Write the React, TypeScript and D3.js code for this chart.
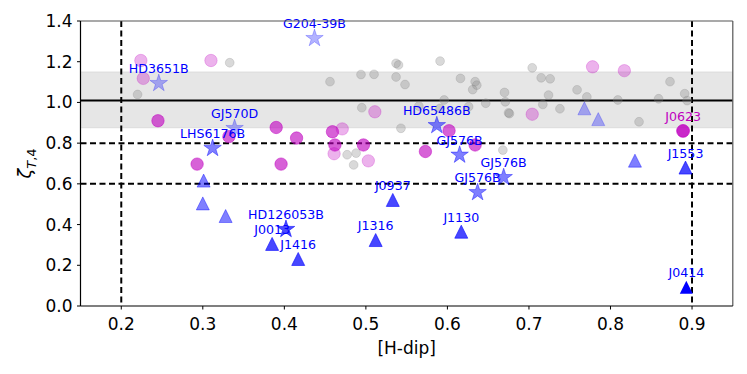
import React from "react";
import * as d3 from "d3";

// field objects (grey), other samples (pink / magenta)
const fieldPts: [number, number][] = [
  [0.220, 1.039], [0.333, 1.195], [0.456, 1.102], [0.494, 1.137], [0.510, 1.138],
  [0.537, 1.192], [0.540, 1.184], [0.537, 1.125], [0.548, 1.088], [0.495, 0.974],
  [0.543, 0.873], [0.477, 0.743], [0.488, 0.751], [0.485, 0.693], [0.565, 0.982],
  [0.591, 1.203], [0.596, 1.012], [0.591, 0.971], [0.616, 1.118], [0.634, 1.102],
  [0.636, 1.085], [0.631, 1.063], [0.626, 0.979], [0.647, 0.996], [0.668, 0.766],
  [0.670, 1.049], [0.671, 1.003], [0.675, 0.949], [0.676, 0.945], [0.704, 1.170],
  [0.715, 1.121], [0.726, 1.116], [0.724, 1.036], [0.717, 0.990], [0.738, 0.969],
  [0.759, 1.062], [0.771, 1.027], [0.809, 1.012], [0.835, 0.905], [0.859, 1.018],
  [0.873, 1.102], [0.891, 1.043], [0.894, 1.009],
];
const paleCircles: [number, number][] = [
  [0.224, 1.206], [0.227, 1.118], [0.310, 1.206], [0.511, 0.954], [0.471, 0.870],
  [0.461, 0.748], [0.503, 0.713], [0.778, 1.175], [0.817, 1.156], [0.704, 0.942],
];
const midCircles: [number, number][] = [
  [0.245, 0.910], [0.293, 0.697], [0.332, 0.832], [0.390, 0.877], [0.415, 0.825],
  [0.396, 0.697], [0.459, 0.856], [0.462, 0.791], [0.497, 0.791], [0.573, 0.759],
  [0.602, 0.861], [0.634, 0.791],
];
const magentaLabeled = [{ name: "J0623", x: 0.889, y: 0.860 }];

// triangles
const triPale: [number, number][] = [[0.768, 0.971], [0.785, 0.918]];
const triMid: [number, number][] = [[0.301, 0.616], [0.300, 0.504], [0.328, 0.442], [0.830, 0.714]];
const triLabeled = [
  { name: "J0937", x: 0.533, y: 0.521 },
  { name: "J1316", x: 0.512, y: 0.324 },
  { name: "J1130", x: 0.617, y: 0.365 },
  { name: "J0013", x: 0.385, y: 0.305 },
  { name: "J1416", x: 0.417, y: 0.231 },
  { name: "J1553", x: 0.892, y: 0.680 },
];
const triSolid = [{ name: "J0414", x: 0.893, y: 0.092 }];

// stars (companions)
const starsPale = [
  { name: "HD3651B", x: 0.246, y: 1.094 },
  { name: "G204-39B", x: 0.437, y: 1.315 },
  { name: "GJ570D", x: 0.339, y: 0.873 },
];
const starsMid = [
  { name: "LHS6176B", x: 0.312, y: 0.775 },
  { name: "HD65486B", x: 0.587, y: 0.887 },
  { name: "GJ576B", x: 0.615, y: 0.742 },
  { name: "GJ576B", x: 0.669, y: 0.632 },
  { name: "GJ576B", x: 0.637, y: 0.558 },
];
const starsStrong = [{ name: "HD126053B", x: 0.402, y: 0.377 }];

const xTicks = [0.2, 0.3, 0.4, 0.5, 0.6, 0.7, 0.8, 0.9];
const yTicks = [0.0, 0.2, 0.4, 0.6, 0.8, 1.0, 1.2, 1.4];
const refLine = 1.01;
const band = [0.875, 1.15];
const dashX = [0.2, 0.9];
const dashY = [0.6, 0.8];

const W = 747, H = 374;
const L = 80.5, R = 732.8, T = 21, B = 306;
const FONT = "DejaVu Sans, sans-serif";

const tri = (s: number) => `M0,${-s}L${-s},${s}L${s},${s}Z`;
const star = d3.symbol().type(d3.symbolStar).size(95)() as string;

export default function App() {
  const x = d3.scaleLinear().domain([0.15, 0.95]).range([L, R]);
  const y = d3.scaleLinear().domain([0, 1.4]).range([B, T]);

  const labels = [...triLabeled, ...triSolid, ...starsPale, ...starsMid, ...starsStrong];

  return (
    <svg width={W} height={H} style={{ position: "absolute", left: 0, top: 0, background: "#fff" }} fontFamily={FONT}>
      <defs>
        <clipPath id="plot"><rect x={L} y={T} width={R - L} height={B - T} /></clipPath>
      </defs>
      <g clipPath="url(#plot)">
        <rect x={L} y={y(band[1])} width={R - L} height={y(band[0]) - y(band[1])}
          fill="#808080" fillOpacity={0.2} stroke="#808080" strokeOpacity={0.15} />
        <line x1={L} x2={R} y1={y(refLine)} y2={y(refLine)} stroke="#000" strokeWidth={2} />
        {dashX.map((d) => (
          <line key={"dx" + d} x1={x(d)} x2={x(d)} y1={T} y2={B} stroke="#000" strokeWidth={2} strokeDasharray="6,3.5" />
        ))}
        {dashY.map((d) => (
          <line key={"dy" + d} x1={L} x2={R} y1={y(d)} y2={y(d)} stroke="#000" strokeWidth={2} strokeDasharray="6,3.5" />
        ))}

        {fieldPts.map(([a, b], i) => (
          <circle key={"f" + i} cx={x(a)} cy={y(b)} r={4.4} fill="#808080" fillOpacity={0.3} stroke="#808080" strokeOpacity={0.3} strokeWidth={0.8} />
        ))}
        {paleCircles.map(([a, b], i) => (
          <circle key={"p" + i} cx={x(a)} cy={y(b)} r={6.2} fill="#bf00bf" fillOpacity={0.3} stroke="#bf00bf" strokeOpacity={0.3} strokeWidth={0.8} />
        ))}
        {midCircles.map(([a, b], i) => (
          <circle key={"m" + i} cx={x(a)} cy={y(b)} r={6.2} fill="#bf00bf" fillOpacity={0.62} stroke="#bf00bf" strokeOpacity={0.62} strokeWidth={0.8} />
        ))}
        {magentaLabeled.map((d) => (
          <circle key={d.name} cx={x(d.x)} cy={y(d.y)} r={6.4} fill="#bf00bf" fillOpacity={0.85} stroke="#bf00bf" strokeOpacity={0.85} strokeWidth={0.8} />
        ))}

        {triPale.map(([a, b], i) => (
          <path key={"tp" + i} d={tri(6.5)} transform={`translate(${x(a)},${y(b)})`} fill="#0000ff" fillOpacity={0.3} stroke="#0000ff" strokeOpacity={0.3} strokeWidth={0.8} />
        ))}
        {triMid.map(([a, b], i) => (
          <path key={"tm" + i} d={tri(6.5)} transform={`translate(${x(a)},${y(b)})`} fill="#0000ff" fillOpacity={0.5} stroke="#0000ff" strokeOpacity={0.5} strokeWidth={0.8} />
        ))}
        {triLabeled.map((d, i) => (
          <path key={"tl" + i} d={tri(6.5)} transform={`translate(${x(d.x)},${y(d.y)})`} fill="#0000ff" fillOpacity={0.72} stroke="#0000ff" strokeOpacity={0.72} strokeWidth={0.8} />
        ))}
        {triSolid.map((d, i) => (
          <path key={"ts" + i} d={tri(6.5)} transform={`translate(${x(d.x)},${y(d.y)})`} fill="#0000ff" />
        ))}

        {starsPale.map((d, i) => (
          <path key={"sp" + i} d={star} transform={`translate(${x(d.x)},${y(d.y)})`} fill="#0000ff" fillOpacity={0.3} stroke="#0000ff" strokeOpacity={0.3} strokeWidth={0.8} />
        ))}
        {starsMid.map((d, i) => (
          <path key={"sm" + i} d={star} transform={`translate(${x(d.x)},${y(d.y)})`} fill="#0000ff" fillOpacity={0.5} stroke="#0000ff" strokeOpacity={0.5} strokeWidth={0.8} />
        ))}
      </g>

      {labels.map((d, i) => (
        <text key={"lb" + i} x={x(d.x)} y={y(d.y) - 10} textAnchor="middle" fontSize={12.6} fill="#0000ff">{d.name}</text>
      ))}
      {magentaLabeled.map((d) => (
        <text key={"lbm" + d.name} x={x(d.x)} y={y(d.y) - 10} textAnchor="middle" fontSize={12.6} fill="#bf00bf">{d.name}</text>
      ))}
      {starsStrong.map((d, i) => (
        <path key={"ss" + i} d={star} transform={`translate(${x(d.x)},${y(d.y)})`} fill="#0000ff" fillOpacity={0.7} stroke="#0000ff" strokeOpacity={0.7} strokeWidth={0.8} />
      ))}

      {/* spines */}
      <line x1={L} x2={R} y1={T} y2={T} stroke="#555" strokeWidth={1.2} />
      <line x1={R} x2={R} y1={T} y2={B} stroke="#555" strokeWidth={1.2} />
      <line x1={L} x2={L} y1={T} y2={B} stroke="#000" strokeWidth={1.2} />
      <line x1={L} x2={R} y1={B} y2={B} stroke="#000" strokeWidth={1.2} />

      {xTicks.map((t) => (
        <g key={"xt" + t} transform={`translate(${x(t)},${B})`}>
          <line y2={3.5} stroke="#000" strokeWidth={1} />
          <text y={24} textAnchor="middle" fontSize={17}>{t.toFixed(1)}</text>
        </g>
      ))}
      {yTicks.map((t) => (
        <g key={"yt" + t} transform={`translate(${L},${y(t)})`}>
          <line x2={-3.5} stroke="#000" strokeWidth={1} />
          <text x={-8} dy="0.35em" textAnchor="end" fontSize={17}>{t.toFixed(1)}</text>
        </g>
      ))}

      <text x={(L + R) / 2} y={354} textAnchor="middle" fontSize={17}>[H-dip]</text>
      <text transform={`translate(31,${(T + B) / 2}) rotate(-90)`} textAnchor="middle" fontSize={18}>
        <tspan fontStyle="italic">ζ</tspan>
        <tspan fontSize={13} dy={5} fontStyle="italic">T</tspan>
        <tspan fontSize={13}>,4</tspan>
      </text>
    </svg>
  );
}
